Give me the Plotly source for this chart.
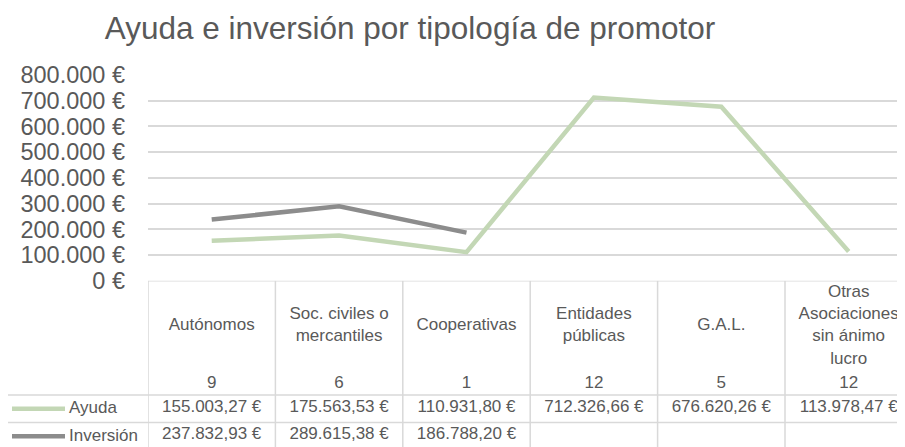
import plotly.graph_objects as go

# datos
categorias = [
    "Autónomos",
    "Soc. civiles o<br>mercantiles",
    "Cooperativas",
    "Entidades<br>públicas",
    "G.A.L.",
    "Otras<br>Asociaciones<br>sin ánimo<br>lucro",
]
num_proyectos = [9, 6, 1, 12, 5, 12]
ayuda = [155003.27, 175563.53, 110931.80, 712326.66, 676620.26, 113978.47]
inversion = [237832.93, 289615.38, 186788.20, None, None, None]
y_ticks = [0, 100000, 200000, 300000, 400000, 500000, 600000, 700000, 800000]

FONT = "Liberation Sans, Arial, sans-serif"
GRIS_TXT = "#595959"
GRID = "#d9d9d9"
C_AYUDA = "#c3d7b5"
C_INV = "#8c8c8c"


def eur(v):
    if v is None:
        return ""
    s = f"{v:,.2f}".replace(",", "X").replace(".", ",").replace("X", ".")
    return s + " €"


def eur_tick(v):
    return f"{v:,.0f}".replace(",", ".") + " €"


# the page body has an 8px margin, so the figure is a bit smaller than the window
OFF = 8
W, H = 905 - OFF, 447 - OFF


def px_x(p):
    return (p - OFF) / W


def px_y(p):
    return 1 - (p - OFF) / H


# layout in window pixels
x_left = 148
col_w = 127.4
legend_left = 7
plot_top = 75
table_top = 280.7
row_edges = [0, 114.3, 141.8, 169.3]  # header, Ayuda, Inversión (px from table top)
name_y = 45.5
count_y = 103
table_span = 447 - table_top

fig = go.Figure()

fig.add_trace(go.Scatter(
    x=categorias, y=ayuda, mode="lines", name="Ayuda",
    line=dict(color=C_AYUDA, width=4.5), hoverinfo="skip"))
fig.add_trace(go.Scatter(
    x=categorias, y=inversion, mode="lines", name="Inversión",
    line=dict(color=C_INV, width=4.5), hoverinfo="skip"))

# table text
tfont = dict(family=FONT, size=17, color=GRIS_TXT)
row_mid = [(row_edges[i] + row_edges[i + 1]) / 2 for i in range(3)]
fig.add_trace(go.Scatter(
    x=categorias, y=[name_y] * len(categorias), text=categorias,
    mode="text", textfont=tfont, xaxis="x2", yaxis="y2", cliponaxis=False))
fig.add_trace(go.Scatter(
    x=categorias, y=[count_y] * len(categorias), text=[str(n) for n in num_proyectos],
    mode="text", textfont=tfont, xaxis="x2", yaxis="y2", cliponaxis=False))
fig.add_trace(go.Scatter(
    x=categorias, y=[row_mid[1] - 1] * len(categorias), text=[eur(v) for v in ayuda],
    mode="text", textfont=tfont, xaxis="x2", yaxis="y2", cliponaxis=False))
fig.add_trace(go.Scatter(
    x=categorias, y=[row_mid[2] - 1] * len(categorias), text=[eur(v) for v in inversion],
    mode="text", textfont=tfont, xaxis="x2", yaxis="y2", cliponaxis=False))

# table borders
shapes = []
bl = dict(color=GRID, width=1.5)
shapes.append(dict(type="line", xref="paper", yref="y2", x0=px_x(x_left), x1=1,
                   y0=0, y1=0, line=bl))
for e in row_edges[1:3]:
    shapes.append(dict(type="line", xref="paper", yref="y2", x0=px_x(legend_left), x1=1,
                       y0=e, y1=e, line=bl))
for i in range(len(categorias) + 1):
    shapes.append(dict(type="line", xref="x2", yref="y2", x0=i - 0.5, x1=i - 0.5,
                       y0=0, y1=row_edges[-1], line=bl))
shapes.append(dict(type="line", xref="paper", yref="y2", x0=px_x(legend_left),
                   x1=px_x(legend_left), y0=row_edges[1], y1=row_edges[-1], line=bl))

# legend keys inside the table
annotations = []
for r, (nombre, color) in enumerate([("Ayuda", C_AYUDA), ("Inversión", C_INV)], start=1):
    shapes.append(dict(type="line", xref="paper", yref="y2", x0=px_x(12), x1=px_x(65),
                       y0=row_mid[r], y1=row_mid[r], line=dict(color=color, width=4.5)))
    annotations.append(dict(text=nombre, xref="paper", yref="y2", x=px_x(67), y=row_mid[r] - 1,
                            xanchor="left", yanchor="middle", showarrow=False, font=tfont))

fig.update_layout(
    template="none",
    width=W, height=H,
    margin=dict(l=0, r=0, t=0, b=0, pad=0, autoexpand=False),
    paper_bgcolor="white", plot_bgcolor="white",
    showlegend=False, hovermode=False,
    font=dict(family=FONT, color=GRIS_TXT),
    title=dict(text="Ayuda e inversión por tipología de promotor",
               x=px_x(410), xanchor="center", y=px_y(28), yanchor="middle",
               font=dict(family=FONT, size=31.5, color=GRIS_TXT)),
    xaxis=dict(type="category", domain=[px_x(x_left), 1], automargin=False,
               range=[-0.5, -0.5 + (905 - x_left) / col_w],
               showticklabels=False, showgrid=False, zeroline=False, showline=False,
               ticks=""),
    yaxis=dict(domain=[px_y(table_top), px_y(plot_top)], range=[0, 800000],
               automargin=False,
               tickvals=y_ticks, ticktext=[eur_tick(v) for v in y_ticks],
               tickfont=dict(family=FONT, size=23.5, color=GRIS_TXT),
               ticklabelstandoff=22, ticks="",
               showgrid=True, gridcolor=GRID, gridwidth=1.5,
               zeroline=False, showline=False),
    xaxis2=dict(matches="x", anchor="y2", domain=[px_x(x_left), 1], visible=False),
    yaxis2=dict(domain=[0, px_y(table_top)], range=[table_span, 0], anchor="x2",
                visible=False),
    shapes=shapes,
    annotations=annotations,
)

fig.write_html("out.html")
